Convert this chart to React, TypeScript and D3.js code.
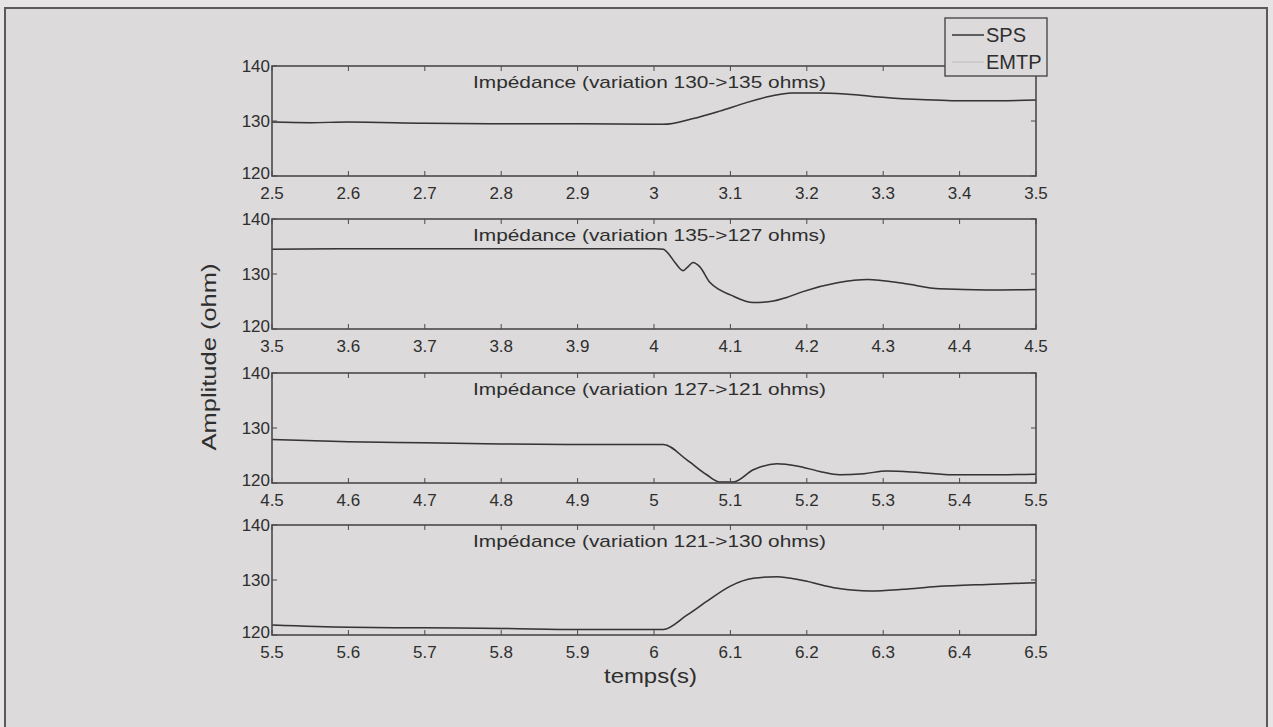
import React from "react";
import * as d3 from "d3";

// ---- data ----
const titles = [
  "Impédance (variation 130->135 ohms)",
  "Impédance (variation 135->127 ohms)",
  "Impédance (variation 127->121 ohms)",
  "Impédance (variation 121->130 ohms)",
];
const xDomains: [number, number][] = [
  [2.5, 3.5],
  [3.5, 4.5],
  [4.5, 5.5],
  [5.5, 6.5],
];
const yTicks = [120, 130, 140];

const t1 = [2.5, 2.55, 2.6, 2.7, 2.8, 2.9, 3.0, 3.012, 3.05, 3.086, 3.12, 3.152, 3.18, 3.217, 3.25, 3.283, 3.32, 3.348, 3.39, 3.45, 3.5];
const sps1 = [129.8, 129.7, 129.8, 129.6, 129.5, 129.5, 129.4, 129.4, 130.4, 131.8, 133.3, 134.5, 135.1, 135.1, 134.9, 134.5, 134.1, 133.9, 133.7, 133.7, 133.8];

const t2 = [3.5, 3.6, 3.7, 3.8, 3.9, 4.0, 4.012, 4.02, 4.028, 4.038, 4.045, 4.051, 4.06, 4.073, 4.085, 4.1, 4.13, 4.152, 4.175, 4.195, 4.24, 4.28, 4.326, 4.374, 4.436, 4.5];
const sps2 = [134.5, 134.6, 134.6, 134.6, 134.6, 134.6, 134.5, 133.5, 132.0, 130.6, 131.4, 132.1, 131.3, 128.5, 127.2, 126.2, 124.8, 125.0, 125.8, 126.8, 128.4, 129.0, 128.3, 127.3, 127.1, 127.2];

const t3 = [4.5, 4.6, 4.7, 4.8, 4.9, 5.0, 5.012, 5.043, 5.069, 5.086, 5.104, 5.13, 5.161, 5.187, 5.217, 5.243, 5.275, 5.305, 5.348, 5.391, 5.45, 5.5];
const sps3 = [127.9, 127.5, 127.3, 127.1, 127.0, 127.0, 127.0, 124.2, 121.5, 120.2, 120.2, 122.4, 123.5, 123.1, 122.1, 121.5, 121.7, 122.2, 121.9, 121.5, 121.5, 121.6];

const t4 = [5.5, 5.6, 5.7, 5.8, 5.9, 6.0, 6.012, 6.043, 6.069, 6.1, 6.13, 6.161, 6.195, 6.24, 6.283, 6.326, 6.37, 6.436, 6.5];
const sps4 = [121.8, 121.4, 121.3, 121.2, 121.0, 121.0, 121.0, 123.6, 126.1, 128.9, 130.3, 130.6, 129.9, 128.5, 128.0, 128.3, 128.8, 129.2, 129.5];

// EMTP overlaps SPS in the picture (read as the same curve)
const emtp1 = [129.8, 129.7, 129.8, 129.6, 129.5, 129.5, 129.4, 129.4, 130.4, 131.8, 133.3, 134.5, 135.1, 135.1, 134.9, 134.5, 134.1, 133.9, 133.7, 133.7, 133.8];
const emtp2 = [134.5, 134.6, 134.6, 134.6, 134.6, 134.6, 134.5, 133.5, 132.0, 130.6, 131.4, 132.1, 131.3, 128.5, 127.2, 126.2, 124.8, 125.0, 125.8, 126.8, 128.4, 129.0, 128.3, 127.3, 127.1, 127.2];
const emtp3 = [127.9, 127.5, 127.3, 127.1, 127.0, 127.0, 127.0, 124.2, 121.5, 120.2, 120.2, 122.4, 123.5, 123.1, 122.1, 121.5, 121.7, 122.2, 121.9, 121.5, 121.5, 121.6];
const emtp4 = [121.8, 121.4, 121.3, 121.2, 121.0, 121.0, 121.0, 123.6, 126.1, 128.9, 130.3, 130.6, 129.9, 128.5, 128.0, 128.3, 128.8, 129.2, 129.5];

const times = [t1, t2, t3, t4];
const spsSeries = [sps1, sps2, sps3, sps4];
const emtpSeries = [emtp1, emtp2, emtp3, emtp4];
const legendLabels = ["SPS", "EMTP"];

// ---- layout ----
const W = 1273;
const H = 727;
const left = 272;
const right = 1036;
const tops = [66, 219, 373, 525];
const ph = 110;
const FONT = "'Liberation Sans', Arial, sans-serif";
const axisColor = "#4a4a4a";
const textColor = "#2e2e2e";
const bg = "#dcdadb";

function Panel({ i }: { i: number }) {
  const top = tops[i];
  const x = d3.scaleLinear().domain(xDomains[i]).range([left, right]);
  const y = d3.scaleLinear().domain([120, 140]).range([top + ph, top]);
  const xt = d3.range(0, 11).map((k) => xDomains[i][0] + k * 0.1);
  const line = d3
    .line<number>()
    .x((_, k) => x(times[i][k]))
    .y((d) => y(d))
    .curve(d3.curveMonotoneX);
  const fmt = (v: number) => {
    const s = d3.format(".1f")(v);
    return s.endsWith(".0") ? s.slice(0, -2) : s;
  };
  return (
    <g>
      <rect x={left} y={top} width={right - left} height={ph} fill={bg} stroke="none" />
      <path d={line(emtpSeries[i]) || ""} fill="none" stroke="#c9c7c8" strokeWidth={1.6} />
      <path d={line(spsSeries[i]) || ""} fill="none" stroke="#353535" strokeWidth={1.5} />
      {xt.map((v, k) => (
        <g key={k}>
          <line x1={x(v)} x2={x(v)} y1={top + ph} y2={top + ph - 5} stroke={axisColor} strokeWidth={1} />
          <line x1={x(v)} x2={x(v)} y1={top} y2={top + 5} stroke={axisColor} strokeWidth={1} />
          <text x={x(v)} y={top + ph + 23} textAnchor="middle" fontFamily={FONT} fontSize={17} fill={textColor}>
            {fmt(v)}
          </text>
        </g>
      ))}
      {yTicks.map((v) => (
        <g key={v}>
          <line x1={left} x2={left + 5} y1={y(v)} y2={y(v)} stroke={axisColor} strokeWidth={1} />
          <line x1={right} x2={right - 5} y1={y(v)} y2={y(v)} stroke={axisColor} strokeWidth={1} />
          <text
            x={left - 2}
            y={v === 120 ? y(v) + 3 : y(v) + 6}
            textAnchor="end"
            fontFamily={FONT}
            fontSize={17}
            fill={textColor}
          >
            {v}
          </text>
        </g>
      ))}
      <rect x={left} y={top} width={right - left} height={ph} fill="none" stroke={axisColor} strokeWidth={1.6} />
      <text
        x={473}
        y={top + 22}
        fontFamily={FONT}
        fontSize={17}
        fill={textColor}
        textLength={353}
        lengthAdjust="spacingAndGlyphs"
      >
        {titles[i]}
      </text>
    </g>
  );
}

export default function App() {
  const lx = 945;
  const ly = 18;
  const lw = 102;
  const lh = 58;
  return (
    <>
      <style>{"body{margin:0;background:#e6e4e5}"}</style>
      <svg width={W} height={H} style={{ display: "block" }}>
        <rect x={0} y={0} width={W} height={H} fill="#e6e4e5" />
        <rect x={5} y={8} width={1262} height={H + 20} fill={bg} stroke="#5a5a5a" strokeWidth={2} />
        {[0, 1, 2, 3].map((i) => (
          <Panel key={i} i={i} />
        ))}
        <text
          transform={`translate(${216},${357}) rotate(-90)`}
          textAnchor="middle"
          fontFamily={FONT}
          fontSize={20}
          fill={textColor}
          textLength={187}
          lengthAdjust="spacingAndGlyphs"
        >
          Amplitude (ohm)
        </text>
        <text
          x={604}
          y={683}
          fontFamily={FONT}
          fontSize={20}
          fill={textColor}
          textLength={93}
          lengthAdjust="spacingAndGlyphs"
        >
          temps(s)
        </text>
        <g>
          <rect x={lx} y={ly} width={lw} height={lh} fill={bg} stroke={axisColor} strokeWidth={1.4} />
          {legendLabels.map((lab, k) => (
            <g key={lab}>
              <line
                x1={lx + 7}
                x2={lx + 39}
                y1={ly + 17 + k * 27}
                y2={ly + 17 + k * 27}
                stroke={k === 0 ? "#353535" : "#c9c7c8"}
                strokeWidth={1.5}
              />
              <text x={lx + 41} y={ly + 24 + k * 27} fontFamily={FONT} fontSize={20} fill={textColor}>
                {lab}
              </text>
            </g>
          ))}
        </g>
      </svg>
    </>
  );
}
